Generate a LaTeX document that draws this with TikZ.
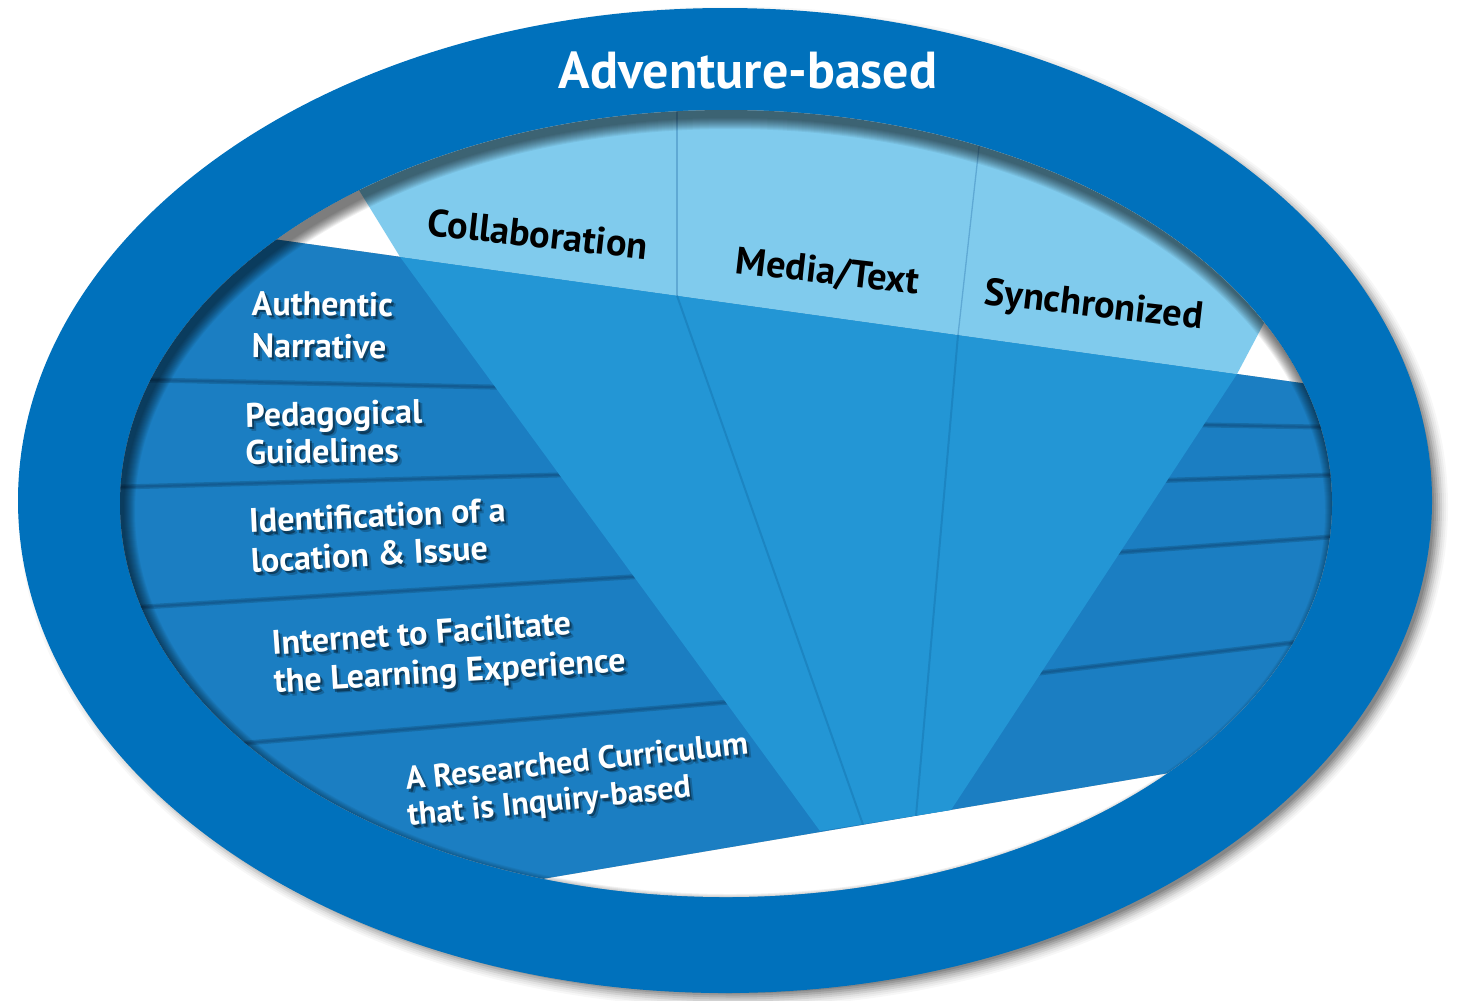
\documentclass[tikz,border=0pt]{standalone}
\usepackage{fontspec}
\setmainfont{PT Sans}
\usetikzlibrary{calc}
\definecolor{ringblue}{HTML}{0071BC}
\definecolor{bandblue}{HTML}{1B7EC2}
\definecolor{coneblue}{HTML}{2396D5}
\definecolor{lightblue}{HTML}{80CBED}
\definecolor{stripeblue}{HTML}{135C93}
\definecolor{foldlight}{HTML}{5FA9D4}
\definecolor{folddark}{HTML}{1C85C2}
\newcommand\wlabel[5][9.7]{%
  \node[wshad,rotate=#4,opacity=0.2,font=\bfseries\fontsize{#1}{11}\selectfont] at ($#3+(4,4)$) {#5};
  \node[wshad,rotate=#4,font=\bfseries\fontsize{#1}{11}\selectfont] at ($#3+(2,2.5)$) {#5};
  \node[wlbl,rotate=#4,font=\bfseries\fontsize{#1}{11}\selectfont] (#2) at #3 {#5};}
\begin{document}
\begin{tikzpicture}[x=0.1mm,y=-0.1mm,
  title/.style={text=white,font=\bfseries\fontsize{14.8}{16}\selectfont,inner sep=0,anchor=base},
  cat/.style={text=black,font=\bfseries\fontsize{10.9}{12}\selectfont,inner sep=0,anchor=base west},
  wlbl/.style={text=white,inner sep=0,anchor=base west},
  wshad/.style={text=black,opacity=0.4,inner sep=0,anchor=base west},
  stripeline/.style={stripeblue,line width=0.22mm},
  stripeshadow/.style={black,opacity=0.15,line width=0.5mm},
  foldlightline/.style={foldlight,line width=0.13mm},
  folddarkline/.style={folddark,line width=0.2mm}]

\useasboundingbox (0,0) rectangle (1460,1000);

% ellipse centres
\coordinate (oc) at (725,500.5);
\coordinate (osh) at (733,507);
\coordinate (ic) at (726,503.5);
\coordinate (isc) at (730,511.5);

% band (tilted plane)
\coordinate (bTL) at (0,200.8);
\coordinate (bTR) at (1460,405.2);
\coordinate (bBR) at (1460,723.8);
\coordinate (bBL) at (0,970.6);

% cone
\coordinate (cL0) at (242,0);
\coordinate (cR0) at (1435,0);
\coordinate (cL1) at (400,256.8);
\coordinate (cR1) at (1237,374);
\coordinate (cR2) at (951,810);
\coordinate (cL2) at (820,831);

% folds
\coordinate (f1a) at (677,0);
\coordinate (f1b) at (677,295.6);
\coordinate (f1c) at (863,824.7);
\coordinate (f2a) at (995.4,0);
\coordinate (f2b) at (958,334.9);
\coordinate (f2c) at (916,815.8);

% stripes (left)
\coordinate (sl1a) at (100,379);   \coordinate (sl1b) at (530,387.8);
\coordinate (sl2a) at (100,487.6); \coordinate (sl2b) at (600,473.8);
\coordinate (sl3a) at (100,609.7); \coordinate (sl3b) at (670,574.5);
\coordinate (sl4a) at (200,747);   \coordinate (sl4b) at (770,698.5);
% stripes (right)
\coordinate (sr1a) at (1170,424.3); \coordinate (sr1b) at (1400,428.5);
\coordinate (sr2a) at (1140,481.2); \coordinate (sr2b) at (1400,472.7);
\coordinate (sr3a) at (1090,554.4); \coordinate (sr3b) at (1400,531.9);
\coordinate (sr4a) at (1000,677.7); \coordinate (sr4b) at (1400,629.9);

% outer drop shadow
\foreach \s/\o in {0/0.12,2/0.11,4/0.10,6/0.08,8/0.07,10/0.05,12/0.04,14/0.03} {
  \pgfmathsetmacro\rx{701+\s}\pgfmathsetmacro\ry{486.5+\s}
  \fill[black,opacity=\o] (osh) ellipse [x radius=\rx, y radius=\ry];
}
% ring
\fill[ringblue] (oc) ellipse [x radius=707, y radius=492.5];

\begin{scope}
  \clip (ic) ellipse [x radius=606, y radius=393.5];
  \fill[white] (0,0) rectangle (1460,1000);
  % shadow of the plane on white
  \foreach \d/\o in {2/0.10,4/0.08,7/0.06,10/0.04,14/0.03}
    \fill[black,opacity=\o,shift={(1,\d)}] (bTL) -- (bTR) -- (bBR) -- (bBL) -- cycle;
  \fill[bandblue] (bTL) -- (bTR) -- (bBR) -- (bBL) -- cycle;
  % stripes
  \foreach \a/\b in {sl1a/sl1b,sl2a/sl2b,sl3a/sl3b,sl4a/sl4b,sr1a/sr1b,sr2a/sr2b,sr3a/sr3b,sr4a/sr4b} {
    \draw[stripeshadow,shift={(0,2)}] (\a) -- (\b);
    \draw[stripeline] (\a) -- (\b);
  }
  % cone
  \fill[coneblue] (cL1) -- (cR1) -- (cR2) -- (cL2) -- cycle;
  \fill[lightblue] (cL0) -- (cR0) -- (cR1) -- (cL1) -- cycle;
  % folds
  \draw[foldlightline] (f1a) -- (f1b);
  \draw[foldlightline] (f2a) -- (f2b);
  \draw[folddarkline] (f1b) -- (f1c);
  \draw[folddarkline] (f2b) -- (f2c);
  % inner shadow of the ring
  \foreach \s in {0,...,11} {
    \pgfmathsetmacro\rx{606-\s}\pgfmathsetmacro\ry{393.5-\s}
    \fill[black,opacity=0.055,even odd rule] (-100,-100) rectangle (1560,1100) (isc) ellipse [x radius=\rx, y radius=\ry];
  }
\end{scope}

% title on the ring
\node[title] (adv) at (748,88) {Adventure-based};

% cone labels
\node[cat,rotate=-6.3] (collab) at (426,235) {Collaboration};
\node[cat,rotate=-6.5] (media) at (734,273) {Media/Text};
\node[cat,rotate=-6.6] (sync) at (983,304) {Synchronized};

% plane labels (white with a soft drop shadow)
\wlabel{auth1}{(251,315)}{-0.8}{Authentic}
\wlabel{auth2}{(251,357)}{-0.8}{Narrative}
\wlabel{ped1}{(245,427)}{1.2}{Pedagogical}
\wlabel{ped2}{(245,464)}{0.8}{Guidelines}
\wlabel{id1}{(249,533)}{2.6}{Identification of a}
\wlabel{id2}{(251,573)}{3.2}{location \& Issue}
\wlabel{int1}{(272,655)}{4}{Internet to Facilitate}
\wlabel{int2}{(274,693)}{3.5}{the Learning Experience}
\wlabel[9.2]{res1}{(406,790)}{6}{A Researched Curriculum}
\wlabel[9.2]{res2}{(408,826)}{5.8}{that is Inquiry-based}
\end{tikzpicture}
\end{document}
